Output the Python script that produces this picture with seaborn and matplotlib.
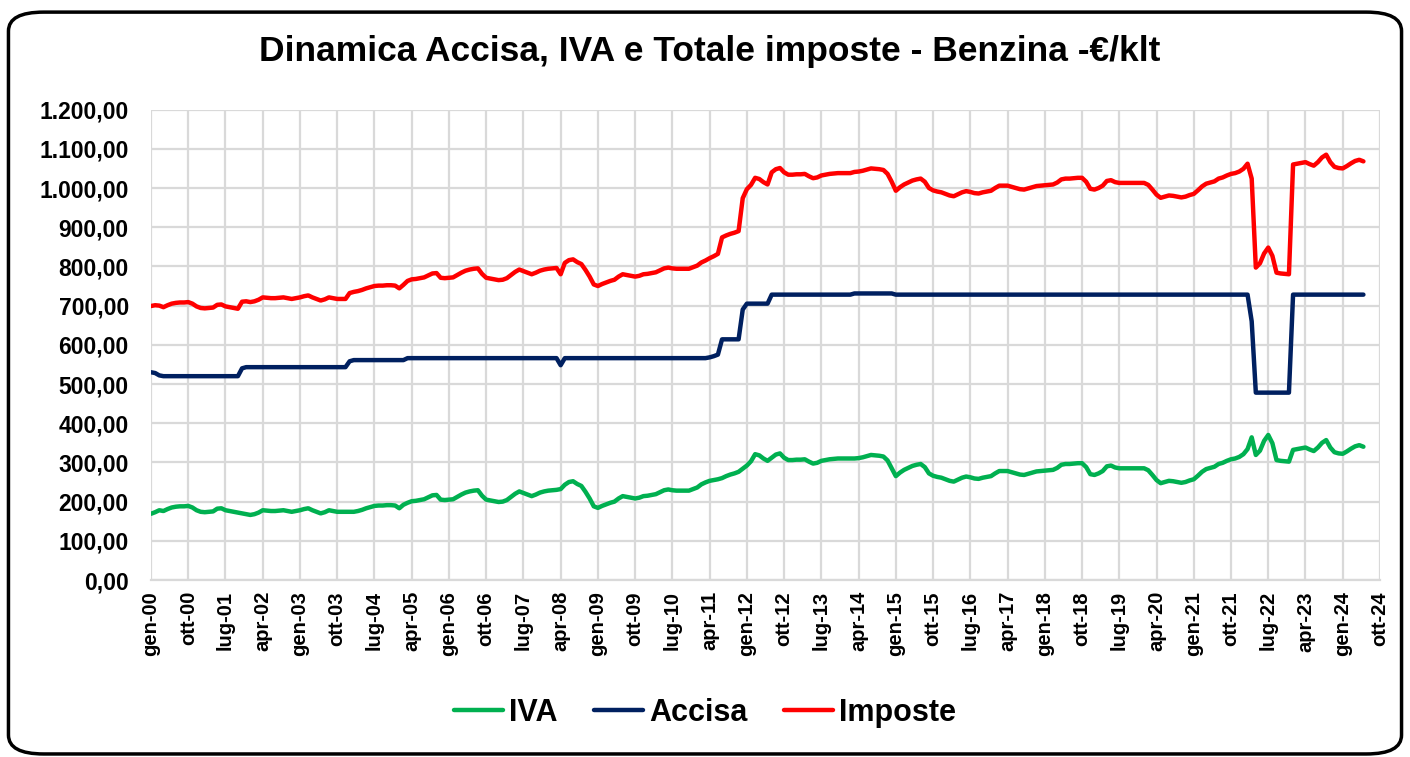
import numpy as np
import pandas as pd
import matplotlib
matplotlib.use("Agg")
import matplotlib.pyplot as plt
from matplotlib.patches import FancyBboxPatch
from matplotlib.ticker import FuncFormatter
import seaborn as sns

# monthly values, gen-00 .. giu-24 (€/klt)
iva = (
    [169, 173, 178, 176, 181, 185, 187, 188, 188, 189, 185, 178]    # 2000
    + [174, 173, 174, 175, 182, 183, 178, 176, 174, 172, 170, 168]  # 2001
    + [166, 168, 172, 178, 177, 176, 176, 177, 178, 176, 174, 176]  # 2002
    + [178, 181, 183, 178, 174, 170, 173, 178, 176, 174, 174, 174]  # 2003
    + [174, 174, 176, 179, 183, 186, 189, 190, 190, 191, 191, 190]  # 2004
    + [183, 192, 197, 201, 202, 204, 206, 211, 216, 217, 205, 204]  # 2005
    + [205, 206, 212, 218, 223, 226, 228, 229, 215, 205, 203, 201]  # 2006
    + [199, 200, 204, 212, 220, 226, 222, 218, 214, 218, 223, 226]  # 2007
    + [228, 229, 230, 232, 243, 250, 252, 245, 240, 225, 208, 188]  # 2008
    + [184, 189, 193, 197, 200, 208, 214, 212, 210, 208, 210, 214]  # 2009
    + [215, 217, 219, 224, 229, 231, 229, 228, 228, 228, 228, 232]  # 2010
    + [236, 244, 249, 253, 255, 257, 260, 265, 269, 272, 276, 284]  # 2011
    + [292, 303, 321, 318, 310, 304, 312, 320, 323, 312, 306, 306]  # 2012
    + [307, 307, 308, 302, 297, 299, 304, 306, 308, 309, 310, 310]  # 2013
    + [310, 310, 310, 311, 313, 316, 319, 318, 317, 315, 305, 285]  # 2014
    + [265, 274, 281, 286, 291, 294, 296, 288, 272, 266, 263, 261]  # 2015
    + [257, 253, 251, 256, 261, 264, 262, 259, 258, 261, 263, 265]  # 2016
    + [272, 278, 278, 278, 275, 272, 269, 268, 271, 274, 277, 278]  # 2017
    + [279, 280, 281, 286, 294, 296, 296, 297, 298, 298, 288, 270]  # 2018
    + [268, 272, 278, 290, 292, 287, 285, 285, 285, 285, 285, 285]  # 2019
    + [285, 280, 268, 255, 247, 250, 253, 252, 250, 248, 250, 254]  # 2020
    + [257, 266, 276, 283, 286, 289, 296, 299, 304, 308, 310, 314]  # 2021
    + [321, 334, 364, 319, 330, 355, 370, 349, 306, 304, 303, 302]  # 2022
    + [332, 334, 336, 338, 333, 329, 338, 350, 357, 338, 326, 323]  # 2023
    + [322, 328, 335, 341, 344, 340]                                # 2024
)

accisa = (
    [530, 528, 522] + [520] * 9            # 2000
    + [520] * 10 + [540, 543]              # 2001
    + [543] * 12                           # 2002
    + [543] * 12                           # 2003
    + [558] + [561] * 11                   # 2004
    + [561, 561] + [566] * 10              # 2005
    + [566] * 12                           # 2006
    + [566] * 12                           # 2007
    + [566, 566, 566, 548] + [566] * 8     # 2008
    + [566] * 12                           # 2009
    + [566] * 12                           # 2010
    + [566, 566, 566, 568, 571, 575, 614, 614, 614, 614, 614, 690]  # 2011
    + [705] * 6 + [728] * 6                # 2012
    + [728] * 12                           # 2013
    + [728, 728] + [731] * 10              # 2014
    + [728] * 84                           # 2015-2021
    + [728, 728, 660] + [478] * 9          # 2022
    + [728] * 12                           # 2023
    + [728] * 6                            # 2024
)

imposte = (
    [699, 701, 700, 696, 701, 705, 707, 708, 708, 709, 705, 698]    # 2000
    + [694, 693, 694, 695, 702, 703, 698, 696, 694, 692, 710, 711]  # 2001
    + [709, 711, 715, 721, 720, 719, 719, 720, 721, 719, 717, 719]  # 2002
    + [721, 724, 726, 721, 717, 713, 716, 721, 719, 717, 717, 717]  # 2003
    + [732, 735, 737, 740, 744, 747, 750, 751, 751, 752, 752, 751]  # 2004
    + [744, 753, 763, 767, 768, 770, 772, 777, 782, 783, 771, 770]  # 2005
    + [771, 772, 778, 784, 789, 792, 794, 795, 781, 771, 769, 767]  # 2006
    + [765, 766, 770, 778, 786, 792, 788, 784, 780, 784, 789, 792]  # 2007
    + [794, 795, 796, 780, 809, 816, 818, 811, 806, 791, 774, 754]  # 2008
    + [750, 755, 759, 763, 766, 774, 780, 778, 776, 774, 776, 780]  # 2009
    + [781, 783, 785, 790, 795, 797, 795, 794, 794, 794, 794, 798]  # 2010
    + [802, 810, 815, 821, 826, 832, 874, 879, 883, 886, 890, 974]  # 2011
    + [997, 1008, 1026, 1023, 1015, 1009, 1040, 1048, 1051, 1040, 1034, 1034]  # 2012
    + [1035, 1035, 1036, 1030, 1025, 1027, 1032, 1034, 1036, 1037, 1038, 1038]  # 2013
    + [1038, 1038, 1041, 1042, 1044, 1047, 1050, 1049, 1048, 1046, 1036, 1016]  # 2014
    + [993, 1002, 1009, 1014, 1019, 1022, 1024, 1016, 1000, 994, 991, 989]  # 2015
    + [985, 981, 979, 984, 989, 992, 990, 987, 986, 989, 991, 993]  # 2016
    + [1000, 1006, 1006, 1006, 1003, 1000, 997, 996, 999, 1002, 1005, 1006]  # 2017
    + [1007, 1008, 1009, 1014, 1022, 1024, 1024, 1025, 1026, 1026, 1016, 998]  # 2018
    + [996, 1000, 1006, 1018, 1020, 1015, 1013, 1013, 1013, 1013, 1013, 1013]  # 2019
    + [1013, 1008, 996, 983, 975, 978, 981, 980, 978, 976, 978, 982]  # 2020
    + [985, 994, 1004, 1011, 1014, 1017, 1024, 1027, 1032, 1036, 1038, 1042]  # 2021
    + [1049, 1062, 1024, 797, 808, 833, 848, 827, 784, 782, 781, 780]  # 2022
    + [1060, 1062, 1064, 1066, 1061, 1057, 1066, 1078, 1085, 1066, 1054, 1051]  # 2023
    + [1050, 1056, 1063, 1069, 1072, 1068]  # 2024
)

tick_labels = [
    "gen-00", "ott-00", "lug-01", "apr-02", "gen-03", "ott-03", "lug-04",
    "apr-05", "gen-06", "ott-06", "lug-07", "apr-08", "gen-09", "ott-09",
    "lug-10", "apr-11", "gen-12", "ott-12", "lug-13", "apr-14", "gen-15",
    "ott-15", "lug-16", "apr-17", "gen-18", "ott-18", "lug-19", "apr-20",
    "gen-21", "ott-21", "lug-22", "apr-23", "gen-24", "ott-24",
]

series_names = ["IVA", "Accisa", "Imposte"]
colors = {"IVA": "#00B050", "Accisa": "#002060", "Imposte": "#FF0000"}

months = np.arange(len(iva))
df = pd.concat([
    pd.DataFrame({"mese": months, "valore": iva, "serie": "IVA"}),
    pd.DataFrame({"mese": months, "valore": accisa, "serie": "Accisa"}),
    pd.DataFrame({"mese": months, "valore": imposte, "serie": "Imposte"}),
])

sns.set_style("white")
plt.rcParams["font.family"] = ["Liberation Sans", "DejaVu Sans"]
plt.rcParams["text.color"] = "black"
plt.rcParams["xtick.color"] = "black"
plt.rcParams["ytick.color"] = "black"

fig = plt.figure(figsize=(14.1, 7.57), dpi=100)
ax = fig.add_axes([0.1071, 0.2338, 0.8716, 0.6214])

sns.lineplot(data=df, x="mese", y="valore", hue="serie", hue_order=series_names,
             palette=colors, linewidth=3.2, ax=ax)

grid_col = "#d9d9d9"
ax.set_xlim(0, 297)
ax.set_ylim(0, 1200)
ax.set_xticks(np.arange(0, 298, 9))
ax.set_xticklabels(tick_labels, rotation=90, fontsize=14.5, fontweight="bold")
ax.set_yticks(np.arange(0, 1201, 100))
ax.yaxis.set_major_formatter(FuncFormatter(
    lambda v, p: f"{v:,.2f}".replace(",", "X").replace(".", ",").replace("X", ".")))
for lab in ax.get_yticklabels():
    lab.set_fontweight("bold")
ax.tick_params(axis="y", labelsize=16.5, length=0, pad=16)
ax.tick_params(axis="x", length=5, color=grid_col, width=1.5, pad=3,
               labelcolor="black")
ax.grid(True, color=grid_col, linewidth=1.6)
ax.set_axisbelow(True)
for s in ["top", "right", "left"]:
    ax.spines[s].set_visible(False)
ax.spines["bottom"].set_color(grid_col)
ax.spines["bottom"].set_linewidth(1.6)
ax.set_xlabel("")
ax.set_ylabel("")

handles, labels = ax.get_legend_handles_labels()
ax.legend(handles, labels, loc="center", bbox_to_anchor=(0.5, 0.058),
          bbox_transform=fig.transFigure, ncol=3, frameon=False,
          prop={"weight": "bold", "size": 22}, handlelength=1.6,
          handletextpad=0.2, columnspacing=1.2)

fig.text(0.503, 0.932, "Dinamica Accisa, IVA e Totale imposte - Benzina -€/klt",
         ha="center", va="center", fontsize=25.5, fontweight="bold",
         color="black")

border = FancyBboxPatch((0.006, 0.004), 0.988, 0.98,
                        boxstyle="round,pad=0,rounding_size=0.025",
                        transform=fig.transFigure, fill=False,
                        edgecolor="black", linewidth=2.5)
fig.patches.append(border)

fig.savefig("out.png", dpi=100)
